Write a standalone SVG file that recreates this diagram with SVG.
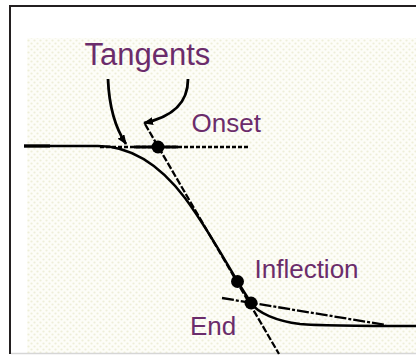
<svg xmlns="http://www.w3.org/2000/svg" width="416" height="356" viewBox="0 0 416 356">
  <defs>
    <pattern id="dots" width="6" height="6" patternUnits="userSpaceOnUse">
      <rect width="6" height="6" fill="#fdfdf8"/>
      <circle cx="1.5" cy="1.5" r="1.1" fill="#eeeed8"/>
      <circle cx="4.5" cy="4.5" r="1.1" fill="#eeeed8"/>
    </pattern>
    <marker id="arrow" markerWidth="10" markerHeight="8" refX="9" refY="4" orient="auto" markerUnits="userSpaceOnUse">
      <path d="M0,0 L10,4 L0,8 Z" fill="#000"/>
    </marker>
    <style>
      .lbl { font-family: "Liberation Sans", Arial, sans-serif; fill: #6b2c6b; }
      .curve { fill: none; stroke: #000; stroke-width: 2.5; }
      .tan { fill: none; stroke: #000; stroke-width: 2.3; }
      .arr { fill: none; stroke: #000; stroke-width: 2.8; }
      .dot { fill: #000; }
    </style>
  </defs>

  <!-- frame and background -->
  <rect x="0" y="0" width="416" height="356" fill="#fff"/>
  <rect x="27" y="38" width="389" height="315" fill="url(#dots)"/>
  <line x1="9" y1="6" x2="416" y2="6" stroke="#231f20" stroke-width="2"/>
  <line x1="10" y1="5" x2="10" y2="354" stroke="#231f20" stroke-width="2"/>
  <line x1="11" y1="353.5" x2="416" y2="353.5" stroke="#d6d6d6" stroke-width="1.5"/>

  <g id="connectors">
    <!-- sigmoid curve -->
    <path class="curve" d="M24,146 H98 C130,146 160,165 185,198 C205,225 225,260 237.5,281.5 L251,303 C258,313 276,321 300,324 C322,326 350,326 416,326"/>
    <line x1="24" y1="146" x2="50" y2="146" stroke="#000" stroke-width="3.2"/>
    <!-- onset tangent (horizontal) -->
    <line class="tan" x1="100" y1="147" x2="248" y2="147" stroke-width="2.8" stroke-dasharray="4 2"/>
    <line x1="134" y1="147" x2="178" y2="147" stroke="#000" stroke-width="3.2"/>
    <!-- steep tangent through inflection -->
    <line class="tan" x1="145" y1="124" x2="279" y2="354" stroke-dasharray="7 2"/>
    <!-- end tangent -->
    <line class="tan" x1="222" y1="298" x2="386" y2="325" stroke-dasharray="12 2 3 2"/>
    <!-- label arrows -->
    <path class="arr" d="M108,79 C109,105 114,126 126,144" marker-end="url(#arrow)"/>
    <path class="arr" d="M188,79 C188,104 172,117 144,123" marker-end="url(#arrow)"/>
  </g>

  <g id="tangents-label">
    <text class="lbl" x="84.5" y="65" font-size="31">Tangents</text>
  </g>
  <g id="onset">
    <circle class="dot" cx="158" cy="147" r="6.5"/>
    <text class="lbl" x="191.5" y="132" font-size="26">Onset</text>
  </g>
  <g id="inflection">
    <circle class="dot" cx="237.5" cy="281.5" r="6.5"/>
    <text class="lbl" x="254.5" y="278" font-size="26">Inflection</text>
  </g>
  <g id="end">
    <circle class="dot" cx="251" cy="303" r="6.5"/>
    <text class="lbl" x="190" y="335" font-size="26">End</text>
  </g>
</svg>
